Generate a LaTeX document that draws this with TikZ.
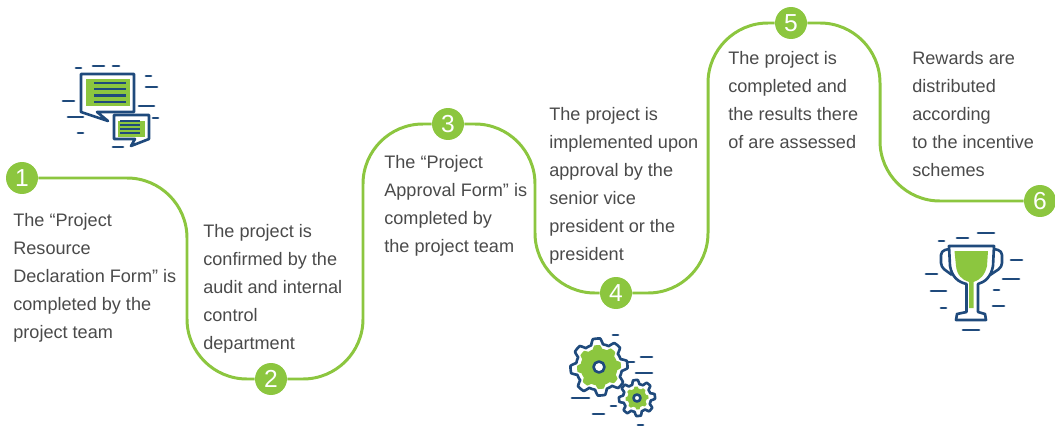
\documentclass[tikz,border=0pt]{standalone}
\usepackage{fontspec}
\setmainfont{Liberation Sans}
\definecolor{leaf}{HTML}{8CC63F}
\definecolor{navy}{HTML}{1F4A7C}
\definecolor{ink}{HTML}{4A4A4A}
\tikzset{
  badge/.style={circle, fill=leaf, text=white, inner sep=0pt, minimum size=0.64cm, font=\fontsize{14}{14}\selectfont},
  route/.style={leaf, line width=1.7pt, rounded corners=1.2cm},
  steptext/.style={anchor=north west, align=left, inner sep=0pt, text=ink, font=\fontsize{10.3}{15.93}\selectfont},
  outline/.style={navy, line width=1.5pt, line join=round},
  tick/.style={navy, line width=1.6pt, line cap=round}
}
% gear(cx, cy, outer radius, inner radius, phase)
\newcommand{\gearplot}[5]{plot[variable=\t, domain=0:360, samples=145]
  ({#1+(#3+#4)/2*cos(\t)+(#3-#4)/2*max(-1,min(1,2*cos(8*(\t+#5))))*cos(\t)},
   {#2+(#3+#4)/2*sin(\t)+(#3-#4)/2*max(-1,min(1,2*cos(8*(\t+#5))))*sin(\t)}) -- cycle}
\begin{document}
\begin{tikzpicture}[x=0.02cm, y=-0.02cm]
  \useasboundingbox (0,0) rectangle (1055,426);

  \node[badge] (n1) at (22,178) {1};
  \node[badge] (n2) at (271,379) {2};
  \node[badge] (n3) at (448,124) {3};
  \node[badge] (n4) at (616,293) {4};
  \node[badge] (n5) at (791,23) {5};
  \node[badge] (n6) at (1040,201) {6};

  \coordinate (c1) at (187,280);
  \coordinate (c2) at (363,250);
  \coordinate (c3) at (535,210);
  \coordinate (c4) at (708,160);
  \coordinate (c5) at (880,110);

  \draw[route] (n1) -- (n1 -| c1) -- (n2 -| c1) -- (n2);
  \draw[route] (n2) -- (n2 -| c2) -- (n3 -| c2) -- (n3);
  \draw[route] (n3) -- (n3 -| c3) -- (n4 -| c3) -- (n4);
  \draw[route] (n4) -- (n4 -| c4) -- (n5 -| c4) -- (n5);
  \draw[route] (n5) -- (n5 -| c5) -- (n6 -| c5) -- (n6);

  \node[steptext] (t1) at (13,213.5) {The “Project\\Resource\\Declaration Form” is\\completed by the\\project team};
  \node[steptext] (t2) at (203,224.5) {The project is\\confirmed by the\\audit and internal\\control\\department};
  \node[steptext] (t3) at (384,155.5) {The “Project\\Approval Form” is\\completed by\\the project team};
  \node[steptext] (t4) at (549,107.5) {The project is\\implemented upon\\approval by the\\senior vice\\president or the\\president};
  \node[steptext] (t5) at (728,51.5) {The project is\\completed and\\the results there\\of are assessed};
  \node[steptext] (t6) at (912,51.5) {Rewards are\\distributed\\according\\to the incentive\\schemes};

  % chat icon
  \fill[leaf] (86,79) rectangle (130,106);
  \draw[outline] (97,112) -- (108,121) -- (81,112) -- (81,74) -- (134,74) -- (134,112) -- cycle;
  \fill[leaf] (118,121) rectangle (145,137);
  \draw[outline] (135,139) -- (131,146) -- (149,139) -- (149,115) -- (114,115) -- (114,139) -- cycle;
  \foreach \y in {83,89,95.5,102}
    \draw[navy, line width=1.3pt] (94,\y) -- (126,\y);
  \foreach \y in {121,125,129,133}
    \draw[navy, line width=1.3pt] (120,\y) -- (140,\y);
  \foreach \a/\b/\y in {76/81/68, 93/104/66, 113/119/66, 146/151/76, 146/157/87, 63/74/101, 139/154/106, 68/83/117, 153/158/118, 78/83/133, 113/123/147}
    \draw[tick] (\a,\y) -- (\b,\y);

  % gear icon
  \fill[leaf] \gearplot{599}{367}{22}{18.5}{5};
  \draw[outline] \gearplot{599}{367}{28.5}{23}{5};
  \draw[outline, fill=white] (599,367) circle (5.5);
  \fill[leaf] \gearplot{637}{398}{11.5}{9.5}{5};
  \draw[outline] \gearplot{637}{398}{18}{14}{5};
  \draw[outline, fill=white] (637,398) circle (3.5);
  \foreach \a/\b/\y in {613/618/335, 641/652/357, 628/634/362, 636/652/373, 572/589/398, 611/616/406, 593/604/414, 638/643/425}
    \draw[tick] (\a,\y) -- (\b,\y);

  % trophy icon
  \fill[leaf] (954.5,251) -- (988,251) -- (987,266) .. controls (985,275) and (980,280) .. (973.5,282) -- (973.5,308) -- (969,308) -- (969,282) .. controls (962,280) and (957,275) .. (956,266) -- cycle;
  \draw[outline] (949,246) -- (994,246) -- (993,266) .. controls (991,277) and (985,282) .. (978,284) -- (978,312) -- (985,314) -- (986,320) -- (956,320) -- (957,314) -- (966.5,312) -- (966.5,284) .. controls (958,282) and (952,277) .. (950,266) -- cycle;
  \draw[outline, rounded corners=0.08cm] (949,249) -- (941,251) -- (941,267) -- (952,275);
  \draw[outline, rounded corners=0.08cm] (994,249) -- (1002,251) -- (1002,267) -- (990,275);
  \foreach \a/\b/\y in {978/994/233, 957/968/238, 939/944/241, 1011/1022/260, 926/937/274, 1003/1019/279, 931/946/291, 994/999/290, 993/1004/306, 941/946/308, 963/979/330}
    \draw[tick] (\a,\y) -- (\b,\y);
\end{tikzpicture}
\end{document}
